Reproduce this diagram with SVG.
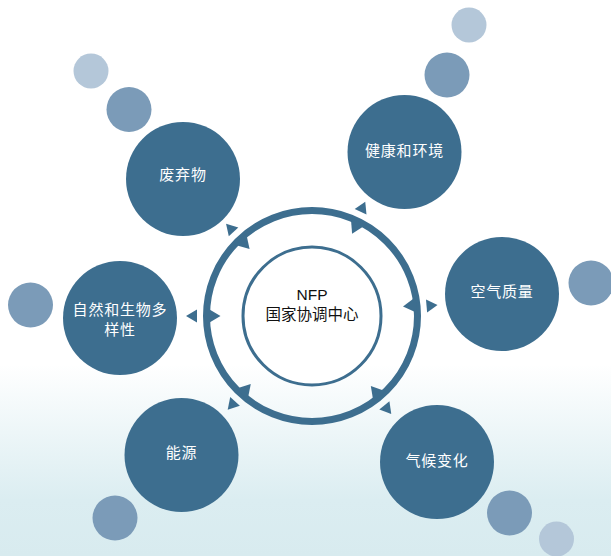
<svg xmlns="http://www.w3.org/2000/svg" width="611" height="556" viewBox="0 0 611 556">
  <defs>
    <linearGradient id="bg" x1="0" y1="0" x2="0" y2="1">
      <stop offset="0" stop-color="#ffffff"/>
      <stop offset="0.655" stop-color="#ffffff"/>
      <stop offset="0.9" stop-color="#dbedf1"/>
      <stop offset="1" stop-color="#d8ebef"/>
    </linearGradient>
    <path id="outTri" d="M126,0 L115,-6.5 L115,6.5 Z"/>
    <path id="inTri" d="M91.5,0 L105,-8 L105,8 Z"/>
  </defs>
  <style>
    .node { fill: #3d6e8f; }
    .mid { fill: #7b9bb8; }
    .light { fill: #b4c7d9; }
    .lbl { fill: #ffffff; font-family: "Liberation Sans", "Noto Sans CJK SC", sans-serif; font-size: 15px; letter-spacing: 0.8px; text-anchor: middle; }
    .ctr { fill: #111111; font-family: "Liberation Sans", "Noto Sans CJK SC", sans-serif; font-size: 15.5px; text-anchor: middle; }
    .tri { fill: #3d6e8f; }
  </style>
  <rect x="0" y="0" width="611" height="556" fill="url(#bg)"/>

  <g id="decor">
    <circle class="light" cx="91" cy="71" r="17.5"/>
    <circle class="mid" cx="129" cy="109.5" r="22.5"/>
    <circle class="light" cx="469" cy="25" r="17.5"/>
    <circle class="mid" cx="447" cy="75" r="22.5"/>
    <circle class="mid" cx="30.5" cy="305" r="22.5"/>
    <circle class="mid" cx="591" cy="283" r="22.5"/>
    <circle class="mid" cx="115" cy="518" r="22.5"/>
    <circle class="mid" cx="509.5" cy="513" r="22.5"/>
    <circle class="light" cx="556.5" cy="539" r="17.5"/>
  </g>

  <g id="connectors">
    <circle cx="312" cy="316" r="105.5" fill="none" stroke="#3d6e8f" stroke-width="7"/>
    <g transform="translate(312 316)">
      <use href="#outTri" class="tri" transform="rotate(-133)"/>
      <use href="#outTri" class="tri" transform="rotate(-65)"/>
      <use href="#outTri" class="tri" transform="rotate(180)"/>
      <use href="#outTri" class="tri" transform="rotate(-5)"/>
      <use href="#outTri" class="tri" transform="rotate(132)"/>
      <use href="#outTri" class="tri" transform="rotate(51)"/>
      <use href="#inTri" class="tri" transform="rotate(-133)"/>
      <use href="#inTri" class="tri" transform="rotate(-64)"/>
      <use href="#inTri" class="tri" transform="rotate(180)"/>
      <use href="#inTri" class="tri" transform="rotate(-6)"/>
      <use href="#inTri" class="tri" transform="rotate(132)"/>
      <use href="#inTri" class="tri" transform="rotate(50)"/>
    </g>
  </g>

  <g id="center">
    <circle cx="312" cy="316" r="69" fill="#ffffff" stroke="#3d6e8f" stroke-width="3"/>
    <text class="ctr" x="312" y="300">NFP</text>
    <text class="ctr" x="312" y="320">国家协调中心</text>
  </g>

  <g id="waste">
    <circle class="node" cx="183" cy="179" r="57"/>
    <text class="lbl" x="183" y="180">废弃物</text>
  </g>
  <g id="health">
    <circle class="node" cx="404.5" cy="152" r="57"/>
    <text class="lbl" x="404.5" y="156">健康和环境</text>
  </g>
  <g id="air">
    <circle class="node" cx="502" cy="294" r="57"/>
    <text class="lbl" x="502" y="297">空气质量</text>
  </g>
  <g id="nature">
    <circle class="node" cx="120" cy="318" r="57"/>
    <text class="lbl" x="120" y="315">自然和生物多</text>
    <text class="lbl" x="120" y="335">样性</text>
  </g>
  <g id="energy">
    <circle class="node" cx="181.5" cy="455" r="57"/>
    <text class="lbl" x="181.5" y="458">能源</text>
  </g>
  <g id="climate">
    <circle class="node" cx="437" cy="462" r="57"/>
    <text class="lbl" x="437" y="466">气候变化</text>
  </g>
</svg>
